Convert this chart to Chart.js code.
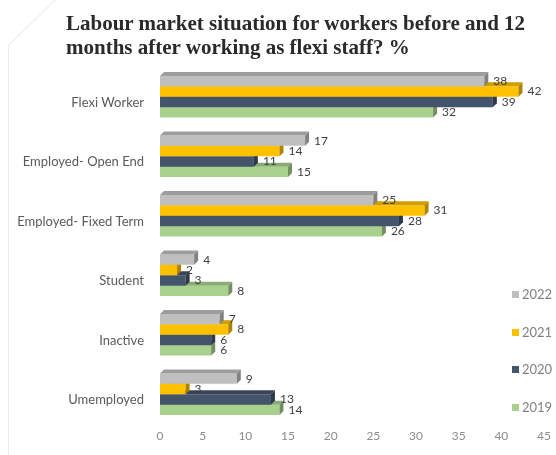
<!DOCTYPE html>
<html>
<head>
<meta charset="utf-8">
<title>Flexi staff labour market</title>
<script src="https://cdn.jsdelivr.net/npm/chart.js@4"></script>
<style>
    body { margin: 0; background: #ffffff; }
    .page { position: relative; width: 556px; height: 455px; overflow: hidden; }
    .frame-v { position: absolute; left: 8px; top: 45px; width: 1px; height: 410px; background: #ececec; }
    .frame-d { position: absolute; left: 8px; top: 45px; width: 66px; height: 1px; background: #ececec;
               transform-origin: 0 0; transform: rotate(-44deg); }
    .title { position: absolute; left: 66px; top: 11px; font: bold 21px "Liberation Serif", serif;
             line-height: 24px; color: #2a2a2a; }
    #chart { position: absolute; left: 0; top: 0; }
    .legend { position: absolute; left: 512px; top: 286px; font: 13px Lato, sans-serif; color: #808080; }
    .legend-item { height: 37.5px; display: flex; align-items: flex-start; line-height: 16px; }
    .legend-box { width: 7px; height: 7px; margin: 5px 3px 0 0; }
</style>
</head>
<body>
<div class="page">
    <div class="frame-v"></div>
    <div class="frame-d"></div>
    <canvas id="chart" width="556" height="455"></canvas>
    <div class="title">Labour market situation for workers before and 12<br>months after working as flexi staff? %</div>
    <div class="legend" id="legend"></div>
</div>
<script>
const categories = ['Flexi Worker', 'Employed- Open End', 'Employed- Fixed Term', 'Student', 'Inactive', 'Umemployed'];
const years = ['2022', '2021', '2020', '2019'];
const values2022 = [38, 17, 25, 4, 7, 9];
const values2021 = [42, 14, 31, 2, 8, 3];
const values2020 = [39, 11, 28, 3, 6, 13];
const values2019 = [32, 15, 26, 8, 6, 14];
const xTicks = [0, 5, 10, 15, 20, 25, 30, 35, 40, 45];

const seriesValues = [values2022, values2021, values2020, values2019];
const seriesColors = ['#bfbfbf', '#ffc000', '#44546a', '#a9d18e'];
const depth = 4;

// darken a hex colour by factor f
function shade(hex, f) {
    const n = parseInt(hex.slice(1), 16);
    const r = Math.round(((n >> 16) & 255) * f);
    const g = Math.round(((n >> 8) & 255) * f);
    const b = Math.round((n & 255) * f);
    return `rgb(${r},${g},${b})`;
}

// fake 3D: top and side faces on every bar
const bar3d = {
    id: 'bar3d',
    afterDatasetDraw(chart, args) {
        const ctx = chart.ctx;
        const color = seriesColors[args.index];
        ctx.save();
        args.meta.data.forEach(bar => {
            const { x, y, base, height } = bar.getProps(['x', 'y', 'base', 'height'], true);
            const top = y - height / 2;
            const bottom = y + height / 2;
            ctx.fillStyle = shade(color, 0.82);
            ctx.beginPath();
            ctx.moveTo(base, top);
            ctx.lineTo(base + depth, top - depth);
            ctx.lineTo(x + depth, top - depth);
            ctx.lineTo(x, top);
            ctx.closePath();
            ctx.fill();
            ctx.fillStyle = shade(color, 0.68);
            ctx.beginPath();
            ctx.moveTo(x, top);
            ctx.lineTo(x + depth, top - depth);
            ctx.lineTo(x + depth, bottom - depth);
            ctx.lineTo(x, bottom);
            ctx.closePath();
            ctx.fill();
        });
        ctx.restore();
    }
};

// value labels at the end of each bar
const valueLabels = {
    id: 'valueLabels',
    afterDatasetsDraw(chart) {
        const ctx = chart.ctx;
        ctx.save();
        ctx.font = '12px Lato, sans-serif';
        ctx.fillStyle = '#404040';
        ctx.textAlign = 'left';
        ctx.textBaseline = 'middle';
        chart.data.datasets.forEach((ds, i) => {
            chart.getDatasetMeta(i).data.forEach((bar, j) => {
                ctx.fillText(ds.data[j], bar.x + depth + 5, bar.y);
            });
        });
        ctx.restore();
    }
};

const chart = new Chart(document.getElementById('chart'), {
    type: 'bar',
    data: {
        labels: categories,
        datasets: years.map((year, i) => ({
            label: year,
            data: seriesValues[i],
            backgroundColor: seriesColors[i],
            borderWidth: 0,
            barPercentage: 1,
            categoryPercentage: 0.7
        }))
    },
    options: {
        indexAxis: 'y',
        responsive: false,
        animation: false,
        layout: { padding: { top: 67, right: 6, bottom: 0, left: 0 } },
        scales: {
            x: {
                min: 0,
                max: 45,
                afterBuildTicks: scale => { scale.ticks = xTicks.map(v => ({ value: v })); },
                afterFit: scale => { scale.height = 31; },
                grid: { display: false, drawTicks: false },
                border: { display: false },
                ticks: { color: '#8c8c8c', font: { family: 'Lato', size: 12 }, padding: 5 }
            },
            y: {
                afterFit: scale => { scale.width = 160; },
                grid: { display: false, drawTicks: false },
                border: { display: false },
                ticks: { color: '#5a5a5a', font: { family: 'Lato', size: 13 }, padding: 16, labelOffset: 6 }
            }
        },
        plugins: {
            legend: { display: false },
            tooltip: { enabled: false }
        }
    },
    plugins: [bar3d, valueLabels]
});

// legend on the right, built from the datasets
const legend = document.getElementById('legend');
chart.data.datasets.forEach(ds => {
    const item = document.createElement('div');
    item.className = 'legend-item';
    item.innerHTML = `<span class="legend-box" style="background:${ds.backgroundColor}"></span>${ds.label}`;
    legend.appendChild(item);
});
</script>
</body>
</html>
